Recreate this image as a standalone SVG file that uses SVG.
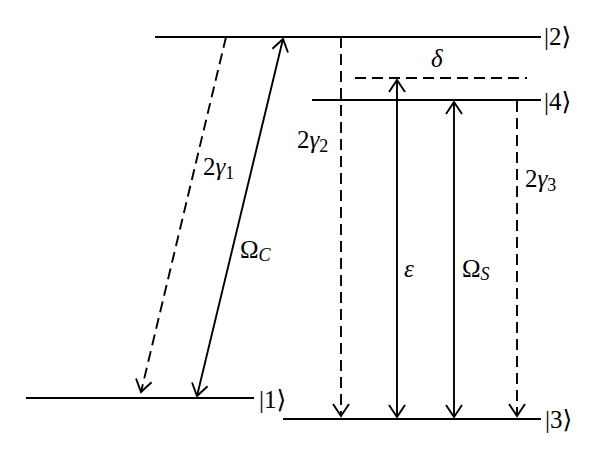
<svg xmlns="http://www.w3.org/2000/svg" width="600" height="458" viewBox="0 0 600 458">
<defs>
<marker id="ah" markerUnits="userSpaceOnUse" viewBox="-14 -10 16 20" refX="0" refY="0" markerWidth="16" markerHeight="20" orient="auto-start-reverse">
<path d="M -12 -8 L 0 0 L -12 8" fill="none" stroke="#000" stroke-width="1.9"/>
</marker>
</defs>
<style>
.lvl{stroke:#000;stroke-width:1.9;fill:none}
.sol{stroke:#000;stroke-width:1.9;fill:none}
.dsh{stroke:#000;stroke-width:1.9;fill:none;stroke-dasharray:11 6}
text{font-family:"Liberation Serif","DejaVu Serif",serif;font-size:25px;fill:#000}
.it{font-style:italic}
.sub{font-size:18px}
</style>
<rect width="600" height="458" fill="#fff"/>
<g id="level2"><line class="lvl" x1="155" y1="37" x2="541" y2="37"/><text x="544" y="45">|2⟩</text></g>
<g id="detuning"><line class="dsh" x1="355" y1="78" x2="527" y2="78"/><text class="it" x="431" y="67">δ</text></g>
<g id="level4"><line class="lvl" x1="312" y1="100" x2="541" y2="100"/><text x="544" y="110">|4⟩</text></g>
<g id="level1"><line class="lvl" x1="26" y1="398" x2="254" y2="398"/><text x="259" y="408">|1⟩</text></g>
<g id="level3"><line class="lvl" x1="283" y1="419" x2="541" y2="419"/><text x="545" y="428">|3⟩</text></g>
<g id="connectors">
<line class="dsh" x1="226" y1="37" x2="141" y2="392" marker-end="url(#ah)"/>
<line class="sol" x1="197" y1="396" x2="283" y2="39" marker-start="url(#ah)" marker-end="url(#ah)"/>
<line class="dsh" x1="341" y1="37" x2="341" y2="416" marker-end="url(#ah)"/>
<line class="sol" x1="397" y1="80" x2="397" y2="417" marker-start="url(#ah)" marker-end="url(#ah)"/>
<line class="sol" x1="454" y1="102" x2="454" y2="417" marker-start="url(#ah)" marker-end="url(#ah)"/>
<line class="dsh" x1="517" y1="101" x2="517" y2="416" marker-end="url(#ah)"/>
</g>
<g id="labels">
<text x="203" y="175">2<tspan class="it">γ</tspan><tspan class="sub" dy="4">1</tspan></text>
<text x="297" y="148">2<tspan class="it">γ</tspan><tspan class="sub" dy="4">2</tspan></text>
<text x="525" y="187">2<tspan class="it">γ</tspan><tspan class="sub" dy="4">3</tspan></text>
<text x="240" y="258">Ω<tspan class="it sub" dy="3">C</tspan></text>
<text class="it" x="404" y="277">ε</text>
<text x="462" y="277">Ω<tspan class="it sub" dy="3">S</tspan></text>
</g>
</svg>
